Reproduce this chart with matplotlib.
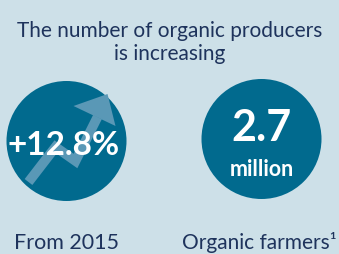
import matplotlib
matplotlib.use("Agg")
import matplotlib.pyplot as plt
from matplotlib.patches import Circle, Polygon
from matplotlib.lines import Line2D

title_lines = ["The number of organic producers", "is increasing"]
values = ["+12.8%", "2.7"]
units = ["", "million"]
labels = ["From 2015", "Organic farmers\u00b9"]

BG = "#cde0e8"
CIRCLE = "#016a8e"
ARROW = "#5a98b6"
NAVY = "#1e335c"
FONT = "Lato"

W, H = 339, 255
fig = plt.figure(figsize=(W / 100, H / 100), dpi=100)
fig.patch.set_facecolor(BG)
ax = fig.add_axes([0, 0, 1, 1])
ax.set_xlim(0, W)
ax.set_ylim(H, 0)
ax.set_aspect("equal")
ax.axis("off")

ax.text(169.5, 31, title_lines[0], ha="center", va="center", fontsize=15,
        color=NAVY, family=FONT)
ax.text(169.5, 54, title_lines[1], ha="center", va="center", fontsize=15,
        color=NAVY, family=FONT)

centers = [(66.5, 142), (261.5, 140)]
r = 60

for (cx, cy) in centers:
    ax.add_patch(Circle((cx, cy), r, color=CIRCLE, lw=0))

# decorative arrow in first circle (relative to centre)
cx, cy = centers[0]
rel = [(-38, 41), (-11, 6), (9, 20), (31, -24)]
xs = [cx + dx for dx, dy in rel]
ys = [cy + dy for dx, dy in rel]
ax.add_line(Line2D(xs, ys, color=ARROW, lw=7, solid_joinstyle="miter",
                   solid_capstyle="butt"))
head = [(7, -35), (41, -47), (49, -15)]
ax.add_patch(Polygon([(cx + dx, cy + dy) for dx, dy in head], closed=True,
                     color=ARROW, lw=0))

ax.text(centers[0][0] - 3, centers[0][1] + 4, values[0], ha="center", va="center",
        fontsize=24, fontweight="bold", color="white", family=FONT)
ax.text(centers[1][0], centers[1][1] - 12, values[1], ha="center", va="center",
        fontsize=31, fontweight="bold", color="white", family=FONT)
ax.text(centers[1][0], centers[1][1] + 30, units[1], ha="center", va="center",
        fontsize=15.5, fontweight="bold", color="white", family=FONT)

ax.text(66, 243, labels[0], ha="center", va="center", fontsize=15.5,
        color=NAVY, family=FONT)
ax.text(259, 243, labels[1], ha="center", va="center", fontsize=15,
        color=NAVY, family=FONT)

fig.savefig("out.png", dpi=100, facecolor=BG)
